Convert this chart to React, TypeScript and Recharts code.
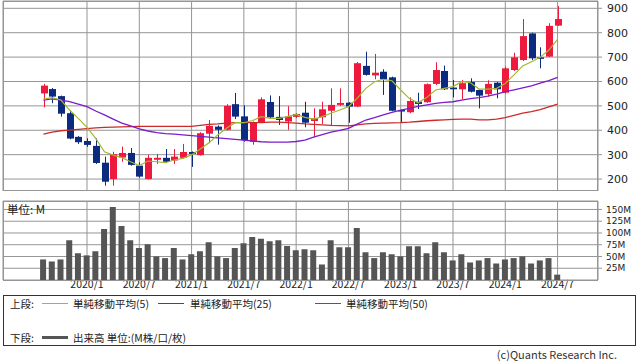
import React from 'react';
import { ComposedChart, Bar, Line, XAxis, YAxis, CartesianGrid } from 'recharts';

const FONT = "'Noto Sans CJK JP', 'DejaVu Sans', sans-serif";
const NUM_FONT = "'DejaVu Sans', sans-serif";

// monthly candles, 2019/8 .. 2024/7
const openP = [551, 569, 540, 470, 373, 356, 336, 267, 200, 288, 307, 255, 200, 279, 287, 276, 287, 311, 298, 386,
  415, 402, 507, 457, 353, 431, 516, 455, 436, 455, 472, 438, 453, 480, 504, 513, 497, 664, 625, 640,
  617, 483, 474, 517, 515, 590, 643, 575, 568, 598, 565, 548, 595, 554, 647, 688, 797, 699, 702, 829];
const closeP = [583, 538, 468, 366, 351, 340, 266, 189, 302, 307, 258, 210, 287, 287, 271, 292, 311, 303, 388, 418,
  402, 500, 456, 359, 434, 527, 453, 442, 457, 467, 431, 449, 486, 504, 512, 497, 675, 627, 636, 609,
  480, 477, 520, 508, 589, 647, 568, 568, 593, 558, 542, 590, 568, 654, 699, 786, 695, 695, 828, 856];
const highP = [590, 573, 542, 483, 376, 367, 367, 292, 312, 333, 327, 269, 300, 303, 323, 323, 344, 313, 392, 442,
  420, 507, 553, 502, 436, 535, 543, 540, 499, 470, 517, 490, 517, 572, 572, 515, 680, 722, 713, 650,
  620, 485, 535, 554, 592, 679, 665, 606, 606, 613, 567, 605, 598, 661, 718, 856, 800, 740, 839, 909];
const lowP = [494, 511, 456, 363, 344, 332, 262, 173, 173, 271, 255, 206, 198, 262, 268, 262, 284, 250, 296, 347,
  341, 400, 446, 353, 341, 430, 450, 422, 402, 450, 412, 371, 426, 418, 500, 431, 495, 624, 609, 545,
  478, 431, 470, 487, 512, 586, 565, 535, 527, 555, 490, 538, 531, 550, 643, 684, 688, 654, 700, 828];

const ma5 = [528, 534, 524, 483, 449, 412, 367, 312, 298, 288, 271, 255, 274, 271, 267, 278, 285, 299, 323, 349,
  381, 408, 431, 431, 440, 456, 449, 449, 456, 465, 453, 446, 456, 470, 483, 497, 531, 572, 599, 609,
  603, 565, 530, 513, 535, 565, 572, 579, 599, 595, 569, 569, 572, 592, 627, 664, 681, 699, 729, 773];
const ma25 = [524, 529, 524, 517, 507, 497, 479, 463, 446, 429, 418, 406, 397, 390, 386, 384, 381, 378, 375, 372,
  369, 366, 363, 360, 356, 353, 351, 351, 351, 354, 360, 372, 382, 392, 400, 408, 425, 442, 452, 463,
  473, 483, 490, 498, 504, 510, 514, 517, 524, 530, 534, 540, 548, 558, 566, 574, 582, 593, 604, 617];
const ma50 = [384, 392, 398, 401, 404, 407, 410, 412, 413, 414, 415, 416, 416, 416, 416, 416, 416, 416, 420, 424,
  426, 429, 431, 431, 431, 431, 433, 433, 431, 429, 426, 424, 422, 420, 419, 418, 422, 426, 428, 429,
  430, 431, 433, 436, 439, 441, 443, 445, 446, 446, 443, 443, 446, 452, 461, 470, 476, 485, 496, 507];

// volume, millions
const volume = [43.7, 39.4, 43.7, 84.7, 56.7, 52.4, 61, 108.4, 155, 114.9, 84.7, 68.1, 76, 50.2, 46.6, 68.1, 43.7, 54.5, 61, 80.4,
  50.2, 46.6, 68.1, 78.2, 91.2, 87.5, 82.5, 84.7, 72.4, 63.1, 65.3, 63.1, 33, 84.7, 69.6, 69.6, 110.6, 58.8, 46.6, 58.8,
  54.5, 50.2, 71.8, 71.8, 56.7, 80.4, 58.8, 41.6, 54.5, 37.3, 41.6, 46.6, 35.1, 43.7, 46.6, 50.2, 35.1, 41.6, 46.6, 11.4];

const monthTicks = [5, 11, 17, 23, 29, 35, 41, 47, 53, 59];
const monthLabels = ['2020/1', '2020/7', '2021/1', '2021/7', '2022/1', '2022/7', '2023/1', '2023/7', '2024/1', '2024/7'];
const priceTicks = [200, 300, 400, 500, 600, 700, 800, 900];
const volTicks = [25, 50, 75, 100, 125, 150];

const rows = openP.map((o, i) => ({
  i,
  range: [lowP[i], highP[i]],
  open: o,
  close: closeP[i],
  high: highP[i],
  low: lowP[i],
  ma5: ma5[i],
  ma25: ma25[i],
  ma50: ma50[i],
  vol: volume[i],
}));

const X_DOMAIN = [-4.64, 63.64];
const GRID = '#959595';

// candle drawn inside the [low, high] bar box
function Candle(props: any) {
  const { x, y, width, height, payload } = props;
  if (!payload) return null;
  const { open, close, high, low } = payload;
  const top = Math.min(y, y + height);
  const h = Math.abs(height);
  const py = (v: number) => (high === low ? top : top + ((high - v) / (high - low)) * h);
  const cx = Math.round(x + width / 2) + 0.5;
  const color = close >= open ? '#ee1a3e' : '#0c2a7e';
  const bTop = py(Math.max(open, close));
  const bBot = py(Math.min(open, close));
  return (
    <g>
      <line x1={cx} x2={cx} y1={top} y2={top + h} stroke={color} strokeWidth={1} />
      <rect x={cx - 3.5} y={bTop} width={7} height={Math.max(1.5, bBot - bTop)} fill={color} />
    </g>
  );
}

const legendText: React.CSSProperties = { position: 'absolute', fontSize: 10.5, color: '#222', lineHeight: '13px', whiteSpace: 'nowrap' };

export default function App() {
  return (
    <div style={{ position: 'relative', width: 638, height: 362, background: '#fff', fontFamily: FONT }}>
      <style>{'body{margin:0}'}</style>

      {/* 上段: price */}
      <div style={{ position: 'absolute', left: 0, top: 0 }}>
        <ComposedChart width={638} height={191} data={rows} margin={{ top: 1, right: 0, bottom: 0, left: 3 }}>
          <CartesianGrid stroke={GRID} strokeWidth={1} />
          <XAxis dataKey="i" type="number" domain={X_DOMAIN} ticks={monthTicks} hide />
          <YAxis orientation="right" width={40} domain={[151, 930]} ticks={priceTicks} allowDataOverflow interval={0}
            axisLine={false} tickSize={4} tickLine={{ stroke: GRID }} tickMargin={5}
            tick={{ fill: '#222', fontSize: 11, fontFamily: NUM_FONT }} />
          <Bar dataKey="range" barSize={7} shape={<Candle />} isAnimationActive={false} />
          <Line dataKey="ma50" type="linear" stroke="#cc2a2a" strokeWidth={1.3} dot={false} isAnimationActive={false} />
          <Line dataKey="ma25" type="linear" stroke="#7a1ccc" strokeWidth={1.3} dot={false} isAnimationActive={false} />
          <Line dataKey="ma5" type="linear" stroke="#a2b832" strokeWidth={1.2} dot={false} isAnimationActive={false} />
        </ComposedChart>
      </div>
      <div style={{ position: 'absolute', left: 3, top: 1, width: 595, height: 190, border: `1px solid ${GRID}`, boxSizing: 'border-box', pointerEvents: 'none' }} />

      {/* 下段: volume */}
      <div style={{ position: 'absolute', left: 0, top: 195 }}>
        <ComposedChart width={638} height={99} data={rows} margin={{ top: 6, right: 0, bottom: 0, left: 3 }}>
          <CartesianGrid stroke={GRID} strokeWidth={1} />
          <XAxis dataKey="i" type="number" domain={X_DOMAIN} ticks={monthTicks} height={14} interval={0}
            axisLine={false} tickLine={false} tickSize={0} tickMargin={1}
            tickFormatter={(v: number) => monthLabels[monthTicks.indexOf(v)] ?? ''}
            tick={{ fill: '#222', fontSize: 10.5, fontFamily: FONT }} />
          <YAxis orientation="right" width={40} domain={[0, 168]} ticks={volTicks} allowDataOverflow interval={0}
            axisLine={false} tickSize={4} tickLine={{ stroke: GRID }} tickMargin={4}
            tickFormatter={(v: number) => `${v}M`}
            tick={{ fill: '#222', fontSize: 9, fontFamily: NUM_FONT }} />
          <Bar dataKey="vol" barSize={6} fill="#555555" isAnimationActive={false} />
        </ComposedChart>
      </div>
      <div style={{ position: 'absolute', left: 3, top: 201, width: 595, height: 80, border: `1px solid ${GRID}`, boxSizing: 'border-box', pointerEvents: 'none' }} />
      <div style={{ ...legendText, left: 7, top: 203, fontSize: 11.5 }}>単位: M</div>

      {/* legend box */}
      <div style={{ position: 'absolute', left: 3, top: 295, width: 633, height: 51, border: '1px solid #333', boxSizing: 'border-box' }} />
      <div style={{ ...legendText, left: 10, top: 297 }}>上段:</div>
      <div style={{ position: 'absolute', left: 42, top: 303, width: 26, height: 1, background: '#a2b832' }} />
      <div style={{ ...legendText, left: 73, top: 297 }}>単純移動平均(5)</div>
      <div style={{ position: 'absolute', left: 158, top: 303, width: 26, height: 1, background: '#7a1ccc' }} />
      <div style={{ ...legendText, left: 190, top: 297 }}>単純移動平均(25)</div>
      <div style={{ position: 'absolute', left: 315, top: 303, width: 26, height: 1, background: '#cc2a2a' }} />
      <div style={{ ...legendText, left: 346, top: 297 }}>単純移動平均(50)</div>

      <div style={{ ...legendText, left: 10, top: 331 }}>下段:</div>
      <div style={{ position: 'absolute', left: 42, top: 336, width: 26, height: 3, background: '#555' }} />
      <div style={{ ...legendText, left: 73, top: 331 }}>出来高 単位:(M株/口/枚)</div>

      <div style={{ ...legendText, right: 21, top: 348, fontSize: 11, color: '#333' }}>(c)Quants Research Inc.</div>
    </div>
  );
}
